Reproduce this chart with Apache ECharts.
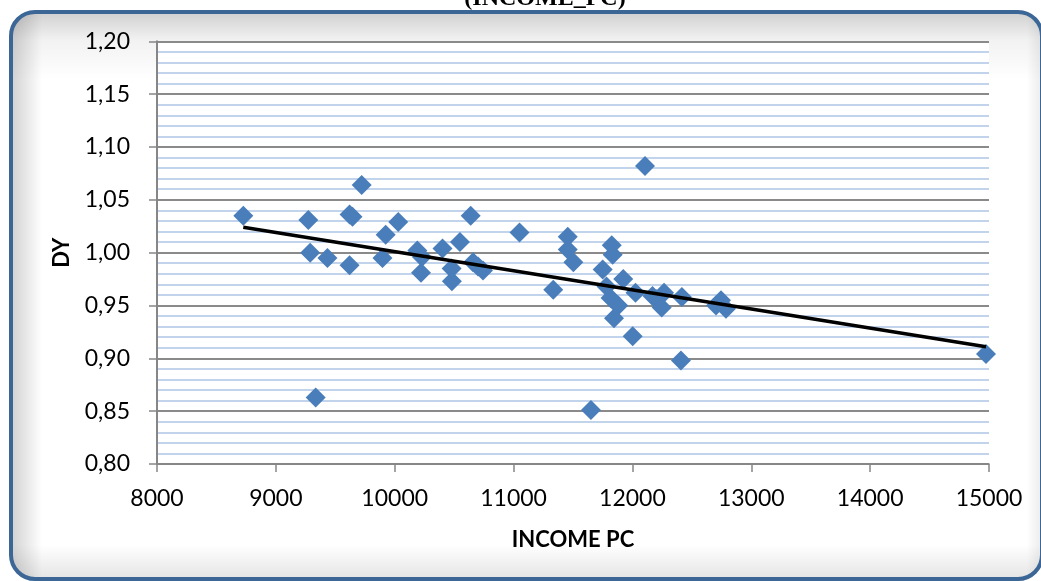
<!DOCTYPE html>
<html>
<head>
<meta charset="utf-8">
<script src="https://cdn.jsdelivr.net/npm/echarts@6/dist/echarts.min.js"></script>
<style>
html,body{margin:0;padding:0;background:#ffffff;}
#chart{width:1041px;height:581px;}
</style>
</head>
<body>
<div id="chart"></div>
<script>
// Data
var incomePc = [8726, 9273, 9289, 9434, 9335, 9620, 9620, 9645, 9722, 9924,
  9897, 10030, 10190, 10229, 10221, 10402, 10549, 10479, 10481, 10639,
  10659, 10701, 10743, 11050, 11334, 11456, 11456, 11503, 11651, 11750,
  11782, 11826, 11834, 11816, 11881, 11845, 11923, 12002, 12026, 12106,
  12169, 12203, 12266, 12246, 12416, 12408, 12703, 12745, 12787, 14975];
var dy = [1.035, 1.031, 1.000, 0.995, 0.863, 0.988, 1.036, 1.034, 1.064, 1.017,
  0.995, 1.029, 1.002, 0.996, 0.981, 1.004, 1.010, 0.985, 0.973, 1.035,
  0.991, 0.987, 0.983, 1.019, 0.965, 1.015, 1.003, 0.991, 0.851, 0.984,
  0.968, 1.007, 0.998, 0.957, 0.950, 0.938, 0.975, 0.921, 0.962, 1.082,
  0.959, 0.956, 0.962, 0.948, 0.958, 0.898, 0.950, 0.955, 0.947, 0.904];
var trendIncome = [8726, 14975];
var trendDy = [1.024, 0.911];
var xTicks = [8000, 15000, 1000];
var yTicks = [0.80, 1.20, 0.05];
var titleText = '(INCOME_PC)';
var xName = 'INCOME PC';
var yName = 'DY';

var points = incomePc.map(function (v, i) { return [v, dy[i]]; });
var trend = trendIncome.map(function (v, i) { return [v, trendDy[i]]; });

var chart = echarts.init(document.getElementById('chart'), null, {renderer: 'canvas'});
var frame = {x: 11, y: 12, width: 1031, height: 567, r: 24};
chart.setOption({
  animation: false,
  backgroundColor: '#ffffff',
  graphic: [
    {type: 'rect', z: -10, shape: frame,
      style: {fill: {type: 'linear', x: 0, y: 0, x2: 0, y2: 1, colorStops: [
        {offset: 0, color: '#d0d0d0'}, {offset: 0.05, color: '#f2f2f2'},
        {offset: 0.12, color: '#ffffff'}, {offset: 0.94, color: '#ffffff'},
        {offset: 1, color: '#e4e4e4'}]}}},
    {type: 'rect', z: -9, shape: frame,
      style: {fill: {type: 'linear', x: 0, y: 0, x2: 1, y2: 0, colorStops: [
        {offset: 0, color: 'rgba(0,0,0,0.18)'}, {offset: 0.03, color: 'rgba(0,0,0,0)'},
        {offset: 0.985, color: 'rgba(0,0,0,0)'}, {offset: 1, color: 'rgba(0,0,0,0.08)'}]}}},
    {type: 'rect', z: -8, shape: frame,
      style: {fill: 'none', stroke: '#3b6696', lineWidth: 4}},
    {type: 'text', z: 10, style: {text: titleText, x: 545, y: -1, textAlign: 'center',
      textVerticalAlign: 'middle', font: 'bold 24px "Liberation Serif"', fill: '#000'}}
  ],
  grid: {left: 157, right: 52, top: 41.3, bottom: 117, containLabel: false,
    show: true, backgroundColor: '#ffffff', borderWidth: 0},
  xAxis: {
    type: 'value', min: xTicks[0], max: xTicks[1], interval: xTicks[2],
    name: xName, nameLocation: 'middle', nameGap: 65,
    nameTextStyle: {fontFamily: 'Lato', fontWeight: 'bold', fontSize: 22, color: '#000'},
    axisLine: {show: true, onZero: false, lineStyle: {color: '#868686', width: 1.5}},
    axisTick: {show: true, length: 8, lineStyle: {color: '#868686', width: 1.5}},
    axisLabel: {margin: 23, fontFamily: 'Lato', fontSize: 23, color: '#000',
      formatter: function (v) { return String(v); }},
    splitLine: {show: false}
  },
  yAxis: {
    type: 'value', min: yTicks[0], max: yTicks[1], interval: yTicks[2],
    name: yName, nameLocation: 'middle', nameGap: 84,
    nameTextStyle: {fontFamily: 'Lato', fontWeight: 'bold', fontSize: 22, color: '#000'},
    axisLine: {show: true, onZero: false, lineStyle: {color: '#868686', width: 2}},
    axisTick: {show: true, length: 8, lineStyle: {color: '#868686', width: 1.5}},
    axisLabel: {margin: 27, fontFamily: 'Lato', fontSize: 23, color: '#000',
      formatter: function (v) { return v.toFixed(2).replace('.', ','); }},
    splitLine: {show: true, lineStyle: {color: '#8a8a8a', width: 2}},
    minorTick: {show: false, splitNumber: 5},
    minorSplitLine: {show: true, lineStyle: {color: '#aec5e6', width: 1.5}}
  },
  series: [
    {type: 'scatter', data: points, symbol: 'diamond', symbolSize: [20, 20],
      itemStyle: {color: '#4a7ebb', opacity: 1}, z: 3},
    {type: 'line', data: trend, symbol: 'none', z: 4,
      lineStyle: {color: '#000000', width: 3.5}}
  ]
});
</script>
</body>
</html>
